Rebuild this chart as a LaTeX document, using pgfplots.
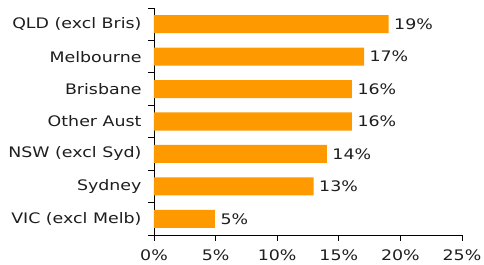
\documentclass[border=0pt]{standalone}
\usepackage{pgfplots}
\pgfplotsset{compat=1.18}
\usepackage{fontspec}
\setmainfont{DejaVu Sans}[FakeStretch=1.2]
\definecolor{barorange}{RGB}{255,153,0}
\definecolor{txt}{RGB}{30,30,30}
\newcommand{\lblfont}{\fontsize{14.5bp}{17bp}\selectfont}
\begin{document}
\begin{tikzpicture}
\begin{axis}[
  name=ax, at={(0,0)}, anchor=south west,
  scale only axis, width=308bp, height=227bp,
  xbar, bar width=18bp,
  xmin=0, xmax=25, ymin=-0.5, ymax=6.5,
  axis lines=left, axis line style={-, black, line width=0.9bp},
  tick style={black, line width=0.9bp},
  tick align=outside,
  major tick length=5.5bp,
  xtick={0,5,10,15,20,25},
  xticklabels={0\%,5\%,10\%,15\%,20\%,25\%},
  ytick={-0.5,0.5,1.5,2.5,3.5,4.5,5.5,6.5},
  yticklabels={},
  extra y ticks={0,1,2,3,4,5,6},
  extra y tick labels={VIC (excl Melb),Sydney,NSW (excl Syd),Other Aust,Brisbane,Melbourne,QLD (excl Bris)},
  extra y tick style={major tick length=0pt, yticklabel style={xshift=-9bp}},
  every tick label/.append style={font=\lblfont, text=txt},
  xticklabel style={yshift=-6bp},
  point meta=explicit symbolic,
  nodes near coords,
  nodes near coords style={anchor=west, font=\lblfont, text=txt, xshift=2bp},
]
\addplot[fill=barorange, draw=none] coordinates {
  (4.95,0) [5\%]
  (12.96,1) [13\%]
  (14.04,2) [14\%]
  (16.07,3) [16\%]
  (16.07,4) [16\%]
  (17.05,5) [17\%]
  (19.05,6) [19\%]
};
\end{axis}
\pgfresetboundingbox
\path[use as bounding box] (-154bp,-30bp) rectangle (330bp,235bp);
\end{tikzpicture}
\end{document}
